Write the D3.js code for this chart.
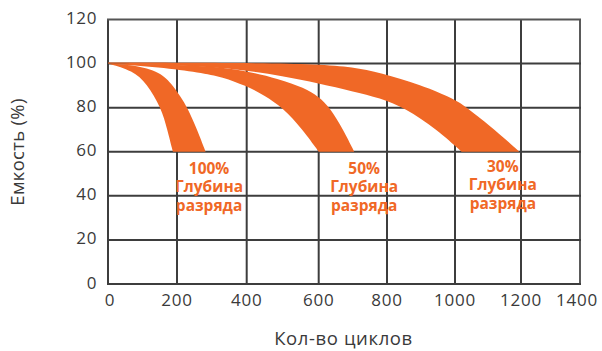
<!DOCTYPE html>
<html>
<head>
<meta charset="utf-8">
<script src="https://cdn.jsdelivr.net/npm/d3@7"></script>
<style>
  html, body { margin: 0; padding: 0; background: #fff; }
  svg { display: block; font-family: "Open Sans", sans-serif; }
</style>
</head>
<body>
<svg id="chart" width="602" height="351"></svg>
<script>
// Axis ticks
const xTicks = [0, 200, 400, 600, 800, 1000, 1200, 1400];
const yTicks = [0, 20, 40, 60, 80, 100, 120];

// Depth-of-discharge captions
const depthLabels = ["100%", "50%", "30%"];
const depthCaption = ["Глубина", "разряда"];

// Capacity bands: [cycles, capacity %] along the outer and inner edge of each band
const band100Outer = [[0, 100], [60, 99.6], [146, 96.8], [184, 91], [210, 85], [230, 80], [258, 70], [282, 60]];
const band100Inner = [[0, 100], [72, 96.8], [112, 91], [154, 80], [172, 70], [188, 60]];

const band50Outer = [[0, 100], [200, 99.6], [300, 98.7], [389, 97.1], [490, 93], [560, 89], [600, 85], [633, 80], [672, 70], [704, 60]];
const band50Inner = [[0, 100], [151, 98.4], [266, 95.9], [330, 94], [400, 89.8], [450, 85.5], [500, 80], [556, 70], [600, 60]];

const band30Outer = [[0, 100.5], [400, 100.3], [600, 99.7], [700, 98.4], [780, 95.9], [900, 90.3], [1000, 83.8], [1036, 80], [1121, 70], [1195, 60]];
const band30Inner = [[0, 100], [200, 99.3], [300, 98.4], [389, 97.1], [500, 94.3], [600, 91], [700, 87.4], [780, 84.4], [852, 80], [948, 70], [1020, 60]];

const svg = d3.select("#chart");

const x = d3.scaleLinear()
  .domain(xTicks)
  .range([108, 177, 246.7, 318.7, 387, 455, 521, 580]);
const y = d3.scaleLinear()
  .domain([0, 120])
  .range([284, 19.5]);

const gridColor = "#3d3d3d";
const textColor = "#3a3a3a";
const orange = "#F06826";

// Grid
const grid = svg.append("g");
grid.selectAll("line.v").data(xTicks).join("line")
  .attr("x1", d => x(d)).attr("x2", d => x(d))
  .attr("y1", y(0)).attr("y2", y(120))
  .attr("stroke", (d, i) => i === xTicks.length - 1 ? "#5a5a5a" : gridColor)
  .attr("stroke-width", 2);
grid.selectAll("line.h").data(yTicks).join("line")
  .attr("x1", x(0) - 1).attr("x2", x(1400) + 1)
  .attr("y1", d => y(d)).attr("y2", d => y(d))
  .attr("stroke", (d, i) => i === yTicks.length - 1 ? "#555" : gridColor)
  .attr("stroke-width", 2);

// Bands: smooth spline along each edge, closed across the 60 % line
const edge = d3.line()
  .x(d => x(d[0]))
  .y(d => y(d[1]))
  .curve(d3.curveBasis);

function bandPath(outer, inner) {
  return edge(outer) + edge(inner.slice().reverse()).replace(/^M/, "L") + "Z";
}

svg.append("g").selectAll("path")
  .data([[band30Outer, band30Inner], [band50Outer, band50Inner], [band100Outer, band100Inner]])
  .join("path")
  .attr("d", d => bandPath(d[0], d[1]))
  .attr("fill", orange);

// Captions under each band
const captionAt = [[292, 50], [733, 50], [1145, 51]];
const labels = svg.append("g")
  .attr("fill", orange)
  .attr("font-weight", 700)
  .attr("font-size", 15.5)
  .attr("text-anchor", "middle");
depthLabels.forEach((lbl, i) => {
  const [cx, cy] = captionAt[i];
  [lbl, ...depthCaption].forEach((line, j) => {
    labels.append("text")
      .attr("x", x(cx))
      .attr("y", y(cy) + j * 18.5)
      .text(line);
  });
});

// Tick labels
svg.append("g").selectAll("text").data(yTicks).join("text")
  .attr("x", 97)
  .attr("y", d => y(d) + 4.5)
  .attr("text-anchor", "end")
  .attr("font-size", 17)
  .attr("letter-spacing", 0.6)
  .attr("fill", textColor)
  .text(d => d);

svg.append("g").selectAll("text").data(xTicks).join("text")
  .attr("x", d => x(d) + (d === 0 ? 2 : d === 1400 ? -3 : 0))
  .attr("y", 306)
  .attr("text-anchor", "middle")
  .attr("font-size", 17)
  .attr("letter-spacing", 0.8)
  .attr("fill", textColor)
  .text(d => d);

// Axis titles
svg.append("text")
  .attr("transform", `translate(24,${152}) rotate(-90)`)
  .attr("text-anchor", "middle")
  .attr("font-size", 18.5)
  .attr("letter-spacing", 0.3)
  .attr("fill", textColor)
  .text("Емкость (%)");

svg.append("text")
  .attr("x", 343.5)
  .attr("y", 345)
  .attr("text-anchor", "middle")
  .attr("font-size", 18.5)
  .attr("letter-spacing", 0.6)
  .attr("fill", textColor)
  .text("Кол-во циклов");
</script>
</body>
</html>
